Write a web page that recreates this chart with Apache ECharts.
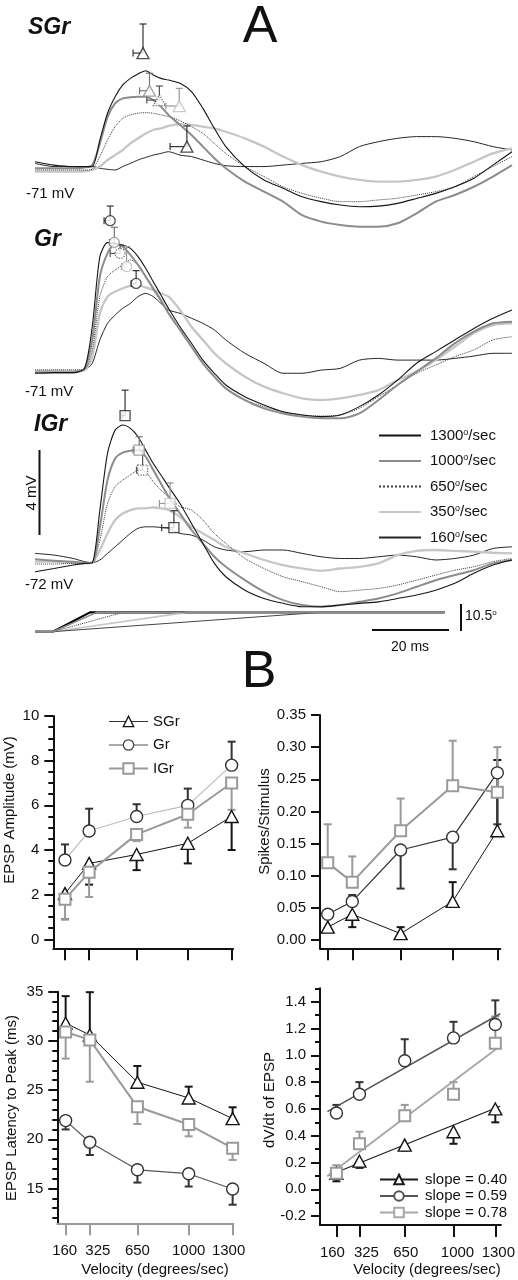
<!DOCTYPE html>
<html><head><meta charset="utf-8">
<script src="https://cdn.jsdelivr.net/npm/echarts@6/dist/echarts.min.js"></script>
<style>html,body{margin:0;padding:0;background:#fff}#c{width:518px;height:1280px}</style>
</head><body><div id="c"></div>
<script>
// ================= DATA =================
// Part A: membrane potential traces (mV relative to rest) sampled at these times (ms)
const timeMs = [0,5,10,13,15,17,19,21,23,25,27,29,31,33,35,38,41,44,47,50,55,60,65,70,75,80,85,90,95,100,105,110,115,120,125];
const speeds = ['1300','1000','650','350','160'];

const sgr1300 = [0.25,0.09,0.02,0.02,0.02,1.27,2.53,3.31,3.86,4.17,4.38,4.53,4.33,4.17,4.09,3.94,3.55,2.76,1.82,0.96,0.02,-0.61,-1.0,-1.4,-1.63,-1.79,-1.87,-1.84,-1.71,-1.48,-1.24,-0.93,-0.53,0.09,0.72];
const sgr1000 = [-0.06,-0.06,-0.06,-0.02,0.09,1.1,2.35,3.0,3.23,3.28,3.31,3.31,3.15,2.84,2.45,1.98,1.51,0.96,0.41,-0.06,-0.69,-1.16,-1.63,-2.27,-2.57,-2.73,-2.81,-2.81,-2.65,-2.18,-1.63,-1.32,-0.93,-0.45,0.09];
const sgr650 = [-0.14,-0.14,-0.14,-0.14,-0.1,0.49,1.27,1.90,2.29,2.45,2.53,2.56,2.53,2.45,2.37,2.18,1.90,1.58,1.11,0.64,0.02,-0.45,-0.93,-1.24,-1.47,-1.63,-1.63,-1.55,-1.47,-1.32,-1.16,-0.93,-0.45,0.02,0.49];
const sgr350 = [-0.22,-0.22,-0.22,-0.2,-0.14,0.02,0.33,0.56,0.80,1.11,1.35,1.58,1.74,1.82,1.93,2.02,1.98,1.90,1.82,1.66,1.35,0.96,0.49,0.09,-0.22,-0.45,-0.61,-0.69,-0.69,-0.61,-0.45,-0.14,0.25,0.64,0.88];
const sgr160 = [0.17,0.02,0.02,-0.02,0.02,-0.06,-0.11,-0.14,0.02,0.17,0.33,0.45,0.56,0.64,0.72,0.56,0.49,0.33,0.17,0.06,0.02,0.02,0.09,0.17,0.25,0.49,0.96,1.19,1.35,1.43,1.43,1.35,1.19,0.96,0.80];

const gr1300 = [-0.06,-0.03,-0.03,0.17,2.13,5.43,6.09,6.05,5.98,5.82,5.43,4.88,4.25,3.62,2.99,2.13,1.35,0.56,-0.06,-0.61,-1.16,-1.55,-1.87,-2.02,-2.10,-2.02,-1.63,-1.08,-0.38,0.41,0.96,1.51,2.05,2.53,2.92];
const gr1000 = [-0.02,-0.02,-0.02,0.17,1.51,4.49,5.58,6.05,5.90,5.51,5.04,4.49,3.94,3.39,2.76,1.98,1.19,0.41,-0.22,-0.77,-1.32,-1.71,-1.95,-2.10,-2.18,-2.18,-1.95,-1.32,-0.61,0.02,0.64,1.35,1.90,2.29,2.37];
const gr650 = [0.1,0.1,0.1,0.13,1.04,3.55,4.49,4.80,5.04,5.27,5.04,4.49,3.86,3.31,2.76,1.98,1.19,0.41,-0.22,-0.77,-1.32,-1.63,-1.87,-2.02,-2.07,-2.02,-1.71,-1.16,-0.61,-0.06,0.33,0.72,1.04,1.51,1.66];
const gr350 = [0.05,0.05,0.05,0.09,0.72,2.76,3.55,3.78,3.94,4.05,4.09,3.98,3.86,3.70,3.55,2.92,2.13,1.51,0.88,0.41,-0.22,-0.69,-1.0,-1.24,-1.32,-1.24,-1.08,-0.85,-0.38,0.02,0.56,1.19,1.82,2.21,2.29];
const gr160 = [0.05,0.05,0.05,0.09,0.41,1.51,2.29,2.68,3.0,3.23,3.55,3.70,3.55,3.23,2.92,2.76,2.53,2.29,1.98,1.51,0.88,0.41,-0.06,-0.06,0.09,0.17,0.56,0.64,0.56,0.56,0.56,0.64,0.75,0.88,0.88];

const igr1300 = [-0.42,-0.27,-0.11,-0.03,0,2.48,5.15,6.24,6.48,6.32,5.93,5.30,4.67,4.13,3.58,2.79,1.85,0.91,-0.03,-0.66,-1.29,-1.68,-1.91,-2.07,-2.07,-1.99,-1.91,-1.84,-1.68,-1.52,-1.29,-0.97,-0.50,-0.11,0.13];
const igr1000 = [0.16,0.09,0.05,0,0,1.69,3.89,4.91,5.18,5.27,5.30,4.99,4.36,3.73,3.11,2.32,1.54,0.91,0.28,-0.19,-0.82,-1.36,-1.76,-1.99,-2.07,-1.99,-1.84,-1.68,-1.44,-1.13,-0.82,-0.58,-0.35,-0.03,0.13];
const igr650 = [-0.06,-0.06,-0.03,-0.03,0,1.07,2.79,3.58,3.89,4.13,4.36,4.28,3.81,3.42,3.11,2.64,2.48,2.01,1.38,0.91,0.20,-0.27,-0.66,-0.89,-1.13,-1.36,-1.29,-1.21,-1.05,-0.82,-0.58,-0.35,-0.19,0.05,0.20];
const igr350 = [0.05,0.05,0,-0.03,0,0.60,1.38,2.01,2.32,2.48,2.56,2.56,2.60,2.56,2.48,2.16,1.69,1.38,1.07,0.75,0.44,0.13,-0.11,-0.27,-0.38,-0.27,-0.19,-0.03,0.36,0.56,0.60,0.56,0.52,0.47,0.44];
const igr160 = [0.44,0.36,0.20,0.05,0,0.13,0.44,0.75,1.07,1.38,1.62,1.69,1.69,1.66,1.62,1.38,1.30,1.07,0.75,0.60,0.52,0.60,0.60,0.44,0.28,0.20,0.20,0.28,0.36,0.28,0.13,0.20,0.36,0.67,0.75];

// Peak markers (order 1300,1000,650,350,160): time (ms), amplitude (mV), time SE (left), amp SE (up)
const sgrPeakTime = [28.3, 30.0, 32.6, 37.8, 39.8];
const sgrPeakAmp = [5.36, 3.59, 3.15, 2.87, 0.96];
const sgrPeakTimeErr = [2.6, 2.6, 3.3, 3.5, 4.4];
const sgrPeakAmpErr = [1.37, 0.82, 0.66, 0.83, 0.97];
const grPeakTime = [19.7, 20.8, 22.3, 24.0, 26.5];
const grPeakAmp = [7.12, 6.10, 5.58, 4.96, 4.17];
const grPeakTimeErr = [1.6, 1.3, 2.6, 1.3, 1.3];
const grPeakAmpErr = [0.69, 0.71, 0.4, 0.94, 0.6];
const igrPeakTime = [23.6, 27.3, 28.2, 35.4, 36.4];
const igrPeakAmp = [6.92, 5.30, 4.36, 2.79, 1.65];
const igrPeakTimeErr = [0.8, 1.6, 1.6, 2.8, 3.2];
const igrPeakAmpErr = [1.2, 0.63, 0.94, 0.97, 0.8];

// Stimulus ramps (deg): onset, time plateau reached, end
const stimOnset = 4.7;
const stimPlateauTime = [14.4, 16.2, 23.1, 39.8, 74.7];
const stimEndTime = 107.4;
const stimAmplitude = 8.1;

// Part B
const velocities = [160, 325, 650, 1000, 1300];
const groups = ['SGr', 'Gr', 'IGr'];

const ampSGr = [2.05, 3.4, 3.8, 4.3, 5.5];
const ampSGrErr = [-1.15, -0.95, -0.7, -0.9, -1.5];
const ampGr = [3.55, 4.85, 5.5, 6.0, 7.8];
const ampGrErr = [0.7, 1.0, 0.55, 0.75, 1.05];
const ampIGr = [1.8, 3.0, 4.7, 5.6, 7.0];
const ampIGrErr = [-0.9, -1.1, -0.3, -0.6, -1.2];

const spkSGr = [0.02, 0.04, 0.01, 0.06, 0.17];
const spkSGrErr = [0, -0.02, 0.01, 0.03, 0.11];
const spkGr = [0.04, 0.06, 0.14, 0.16, 0.26];
const spkGrErr = [0, 0.01, -0.06, -0.05, -0.08];
const spkIGr = [0.12, 0.09, 0.17, 0.24, 0.23];
const spkIGrErr = [0.06, 0.04, 0.05, 0.07, 0.07];

const latSGr = [31.8, 30.6, 25.8, 24.2, 22.1];
const latSGrErr = [2.75, 4.35, 1.65, 1.15, 1.15];
const latGr = [21.9, 19.7, 16.9, 16.5, 14.95];
const latGrErr = [-0.9, -1.3, -1.3, -1.3, -1.6];
const latIGr = [30.9, 30.1, 23.3, 21.5, 19.1];
const latIGrErr = [-2.7, -4.25, -1.75, -1.2, -1.2];

const dvSGr = [0.12, 0.21, 0.33, 0.43, 0.60];
const dvSGrErr = [-0.06, -0.05, -0.04, -0.09, -0.10];
const dvGr = [0.57, 0.71, 0.96, 1.13, 1.23];
const dvGrErr = [0.06, 0.09, 0.16, 0.12, 0.18];
const dvIGr = [0.12, 0.34, 0.55, 0.71, 1.09];
const dvIGrErr = [0.06, 0.09, 0.08, 0.09, 0.2];

const fitVelocity = [95, 1335];
const dvFitSGr = [0.10, 0.62];
const dvFitGr = [0.58, 1.31];
const dvFitIGr = [0.10, 1.07];
const slopeLabels = ['slope = 0.40', 'slope = 0.59', 'slope = 0.78'];

// Tick values
const ampTicks = [0, 2, 4, 6, 8, 10];
const ampMinorTicks = [0.5,1,1.5,2.5,3,3.5,4.5,5,5.5,6.5,7,7.5,8.5,9,9.5];
const spkTicks = [0, 0.05, 0.10, 0.15, 0.20, 0.25, 0.30, 0.35];
const latTicks = [15, 20, 25, 30, 35];
const latMinorTicks = [12,13,14,16,17,18,19,21,22,23,24,26,27,28,29,31,32,33,34];
const dvTicks = [-0.2, 0, 0.2, 0.4, 0.6, 0.8, 1.0, 1.2, 1.4];
const dvMinorTicks = [-0.1, 0.1, 0.3, 0.5, 0.7, 0.9, 1.1, 1.3, 1.5];

// ================= STYLE / LAYOUT =================
const FONT = 'Liberation Sans, Arial, Helvetica, sans-serif';
const traceStyles = {
  '1300': {color:'#151515', width:1.1, type:'solid'},
  '1000': {color:'#8c8c8c', width:2, type:'solid'},
  '650':  {color:'#3a3a3a', width:1, type:'dotted'},
  '350':  {color:'#c6c6c6', width:2.3, type:'solid'},
  '160':  {color:'#262626', width:1, type:'solid'}
};
const stimStyles = {
  '1300': {color:'#000', width:2.2, type:'solid'},
  '1000': {color:'#8c8c8c', width:1.6, type:'solid'},
  '650':  {color:'#3a3a3a', width:1, type:'dotted'},
  '350':  {color:'#c6c6c6', width:1.6, type:'solid'},
  '160':  {color:'#444', width:1, type:'solid'}
};
const stimOrder = [0, 2, 3, 4, 1];
const markerStyles = {
  '1300': {border:'#222', err:'#333', dash:'solid'},
  '1000': {border:'#8c8c8c', err:'#777', dash:'solid'},
  '650':  {border:'#555', err:'#555', dash:'dotted'},
  '350':  {border:'#bdbdbd', err:'#999', dash:'solid'},
  '160':  {border:'#222', err:'#333', dash:'solid'}
};
const groupStyle = {
  SGr: {symbol:'triangle', size:[13,12], line:'#151515', lineW:1, border:'#151515', err:'#151515'},
  Gr:  {symbol:'circle', size:12, line:'#444', lineW:1.2, border:'#333', err:'#333'},
  IGr: {symbol:'rect', size:11, line:'#9a9a9a', lineW:2, border:'#9a9a9a', err:'#9a9a9a'}
};

const panelsA = [
  {traces:[sgr1300,sgr1000,sgr650,sgr350,sgr160], pt:sgrPeakTime, pv:sgrPeakAmp, pte:sgrPeakTimeErr, pve:sgrPeakAmpErr, symbol:'triangle', size:[12,11], grid:{top:18.25, height:212.5}, y:[-3,7]},
  {traces:[gr1300,gr1000,gr650,gr350,gr160], pt:grPeakTime, pv:grPeakAmp, pte:grPeakTimeErr, pve:grPeakAmpErr, symbol:'circle', size:10, grid:{top:202, height:233.75}, y:[-3,8]},
  {traces:[igr1300,igr1000,igr650,igr350,igr160], pt:igrPeakTime, pv:igrPeakAmp, pte:igrPeakTimeErr, pve:igrPeakAmpErr, symbol:'rect', size:10, grid:{top:382.1, height:244.4}, y:[-3,8.5]}
];

const grids = [];
const xAxes = [];
const yAxes = [];
const series = [];

// ---------- Part A grids ----------
panelsA.forEach((p) => {
  grids.push({left:35, width:477, top:p.grid.top, height:p.grid.height});
  const gi = grids.length - 1;
  xAxes.push({gridIndex:gi, type:'value', min:0, max:125, show:false});
  yAxes.push({gridIndex:gi, type:'value', min:p.y[0], max:p.y[1], show:false});
});
grids.push({left:35, width:477, top:603.1, height:30.95});
xAxes.push({gridIndex:3, type:'value', min:0, max:125, show:false});
yAxes.push({gridIndex:3, type:'value', min:-1, max:12, show:false});

const drawOrder = [4, 3, 2, 1, 0]; // 160 first, 1300 on top
panelsA.forEach((p, pi) => {
  drawOrder.forEach((k) => {
    const s = speeds[k], st = traceStyles[s];
    series.push({
      type:'line', name: s + '°/sec', xAxisIndex:pi, yAxisIndex:pi,
      data: timeMs.map((t, i) => [t, p.traces[k][i]]),
      symbol:'none', smooth:0.25, silent:true, z:2,
      itemStyle:{color:st.color},
      lineStyle:{color:st.color, width:st.width, type:st.type}
    });
  });
  series.push({
    type:'custom', xAxisIndex:pi, yAxisIndex:pi, z:3, silent:true, clip:false,
    data: p.pt.map((t, i) => [t, p.pv[i], p.pte[i], p.pve[i]]),
    encode:{x:0, y:1},
    renderItem: (params, api) => {
      const t = api.value(0), v = api.value(1), te = api.value(2), ve = api.value(3);
      const c = api.coord([t, v]), l = api.coord([t - te, v]), u = api.coord([t, v + ve]);
      const st = {stroke: markerStyles[speeds[params.dataIndex]].err, lineWidth: 1.2};
      return {type:'group', children:[
        {type:'line', shape:{x1:c[0], y1:c[1], x2:u[0], y2:u[1]}, style:st},
        {type:'line', shape:{x1:u[0]-3.5, y1:u[1], x2:u[0]+3.5, y2:u[1]}, style:st},
        {type:'line', shape:{x1:c[0], y1:c[1], x2:l[0], y2:l[1]}, style:st},
        {type:'line', shape:{x1:l[0], y1:l[1]-3.5, x2:l[0], y2:l[1]+3.5}, style:st}
      ]};
    }
  });
  series.push({
    type:'scatter', xAxisIndex:pi, yAxisIndex:pi, z:4, silent:true,
    symbol:p.symbol, symbolSize:p.size,
    data: p.pt.map((t, i) => ({
      value:[t, p.pv[i]],
      itemStyle:{color:'#fff', borderColor:markerStyles[speeds[i]].border, borderWidth:1.3, borderType:markerStyles[speeds[i]].dash}
    }))
  });
});

// Stimulus ramps
stimOrder.forEach((k) => {
  const s = speeds[k], st = stimStyles[s];
  series.push({
    type:'line', name:'stim' + s, xAxisIndex:3, yAxisIndex:3, symbol:'none', silent:true,
    data:[[0,0],[stimOnset,0],[stimPlateauTime[k],stimAmplitude],[stimEndTime,stimAmplitude]],
    lineStyle:{color:st.color, width:st.width, type:st.type}
  });
});

// ---------- Part B ----------
const panelsB = [
  {key:'amp', vals:{SGr:ampSGr, Gr:ampGr, IGr:ampIGr}, errs:{SGr:ampSGrErr, Gr:ampGrErr, IGr:ampIGrErr},
   grid:{left:53.3, top:716, width:179.8, height:232.3}, x:[80,1310], y:[-0.4,10], ticks:ampTicks, minor:ampMinorTicks, fmt:v=>String(v), xLabels:false,
   labelShift:[0,0,0,0,0], lineColor:{Gr:'#bcbcbc'}},
  {key:'spk', vals:{SGr:spkSGr, Gr:spkGr, IGr:spkIGr}, errs:{SGr:spkSGrErr, Gr:spkGrErr, IGr:spkIGrErr},
   grid:{left:320, top:715, width:180.3, height:233.3}, x:[108,1320], y:[-0.0129,0.35], ticks:spkTicks, minor:null, fmt:v=>v.toFixed(2), xLabels:false,
   labelShift:[0,0,0,0,0], lineColor:{Gr:'#333'}},
  {key:'lat', vals:{SGr:latSGr, Gr:latGr, IGr:latIGr}, errs:{SGr:latSGrErr, Gr:latGrErr, IGr:latIGrErr},
   grid:{left:57.3, top:991.7, width:176.2, height:231.6}, x:[103,1306], y:[11.46,35], ticks:latTicks, minor:latMinorTicks, fmt:v=>String(v), xLabels:true, xAxisColor:'#9a9a9a',
   labelShift:[-1,8,0,0,-4], lineColor:{Gr:'#555'}},
  {key:'dv', vals:{SGr:dvSGr, Gr:dvGr, IGr:dvIGr}, errs:{SGr:dvSGrErr, Gr:dvGrErr, IGr:dvIGrErr},
   grid:{left:320, top:988.3, width:183.3, height:236.7}, x:[42,1340], y:[-0.266,1.5], ticks:dvTicks, minor:dvMinorTicks, fmt:v=>v.toFixed(1), xLabels:true,
   labelShift:[-4,7,1,4,3], noLines:true}
];

panelsB.forEach((p) => {
  grids.push(p.grid);
  const gi = grids.length - 1;
  const xc = p.xAxisColor || '#111';
  const rich = {};
  p.labelShift.forEach((s, i) => {
    rich['l' + i] = {fontSize:15, fontFamily:FONT, color:'#111', padding: s >= 0 ? [0,0,0,2*s] : [0,-2*s,0,0]};
  });
  xAxes.push({
    gridIndex:gi, type:'value', min:p.x[0], max:p.x[1], position:'bottom',
    axisLine:{show:true, onZero:false, lineStyle:{color:xc, width:2}},
    axisTick:{show:true, inside:false, length:12, customValues:velocities, lineStyle:{color:xc, width:2}},
    axisLabel:{show:p.xLabels, customValues:velocities, margin:20, fontSize:15, color:'#111', fontFamily:FONT,
      hideOverlap:false, showMinLabel:true, showMaxLabel:true, rich:rich,
      formatter:v => '{l' + velocities.indexOf(v) + '|' + v + '}'},
    splitLine:{show:false}
  });
  const xi = xAxes.length - 1;
  yAxes.push({
    gridIndex:gi, type:'value', min:p.y[0], max:p.y[1], position:'left',
    axisLine:{show:true, onZero:false, lineStyle:{color:'#111', width:2}},
    axisTick:{show:true, inside:false, length:9, customValues:p.ticks, lineStyle:{color:'#111', width:2}},
    axisLabel:{show:true, customValues:p.ticks, margin:14, fontSize:15, color:'#111', fontFamily:FONT, formatter:p.fmt},
    splitLine:{show:false}
  });
  const yi = yAxes.length - 1;
  if (p.minor) {
    yAxes.push({
      gridIndex:gi, type:'value', min:p.y[0], max:p.y[1], position:'left', offset:0,
      axisLine:{show:false, onZero:false},
      axisTick:{show:true, inside:false, length:5, customValues:p.minor, lineStyle:{color:'#111', width:2}},
      axisLabel:{show:false}, splitLine:{show:false}
    });
  }
  groups.forEach((g) => {
    const gs = groupStyle[g];
    series.push({
      type:'custom', xAxisIndex:xi, yAxisIndex:yi, z:1, silent:true, clip:false,
      data: velocities.map((v, i) => [v, p.vals[g][i], p.errs[g][i]]),
      encode:{x:0, y:1},
      renderItem: (params, api) => {
        const e = api.value(2);
        if (!e) return null;
        const a = api.coord([api.value(0), api.value(1)]);
        const b = api.coord([api.value(0), api.value(1) + e]);
        const st = {stroke:gs.err, lineWidth:2};
        return {type:'group', children:[
          {type:'line', shape:{x1:a[0], y1:a[1], x2:b[0], y2:b[1]}, style:st},
          {type:'line', shape:{x1:b[0]-4, y1:b[1], x2:b[0]+4, y2:b[1]}, style:st}
        ]};
      }
    });
    series.push({
      type:'line', name:g, xAxisIndex:xi, yAxisIndex:yi, z:3, silent:true,
      data: velocities.map((v, i) => [v, p.vals[g][i]]),
      symbol:gs.symbol, symbolSize:gs.size, showSymbol:true,
      lineStyle:{color:(p.lineColor && p.lineColor[g]) || gs.line, width: p.noLines ? 0 : gs.lineW, opacity: p.noLines ? 0 : 1},
      itemStyle:{color:'#fff', borderColor:gs.border, borderWidth: g === 'IGr' ? 2 : 1.4}
    });
  });
  if (p.key === 'dv') {
    const fits = [dvFitSGr, dvFitGr, dvFitIGr];
    const fitColors = ['#1a1a1a', '#555', '#a8a8a8'];
    const fitWidths = [1.2, 1.5, 2];
    groups.forEach((g, gi2) => {
      const gs = groupStyle[g];
      series.push({
        type:'line', name:slopeLabels[gi2], xAxisIndex:xi, yAxisIndex:yi, z:2, silent:true,
        data: fitVelocity.map((v, i) => [v, fits[gi2][i]]),
        symbol:gs.symbol, symbolSize:gs.size, showSymbol:false,
        lineStyle:{color:fitColors[gi2], width:fitWidths[gi2]},
        itemStyle:{color:'#fff', borderColor:fitColors[gi2], borderWidth:1.3}
      });
    });
  }
});

// ---------- Annotations ----------
const txt = (x, y, text, extra) => Object.assign({type:'text', x, y, silent:true,
  style:Object.assign({text, fill:'#111', fontFamily:FONT, fontSize:15, align:'left', verticalAlign:'middle'}, (extra && extra.style) || {})},
  extra && extra.rotation !== undefined ? {rotation:extra.rotation} : {});
const ln = (x1, y1, x2, y2, w) => ({type:'line', silent:true, shape:{x1, y1, x2, y2}, style:{stroke:'#111', lineWidth:w || 2}});

const graphic = [
  txt(28, 28, 'SGr', {style:{fontSize:23, fontWeight:'bold', fontStyle:'italic'}}),
  txt(34, 240, 'Gr', {style:{fontSize:23, fontWeight:'bold', fontStyle:'italic'}}),
  txt(34, 425, 'IGr', {style:{fontSize:23, fontWeight:'bold', fontStyle:'italic'}}),
  txt(260, 28, 'A', {style:{fontSize:52, align:'center'}}),
  txt(259, 673, 'B', {style:{fontSize:52, align:'center'}}),
  txt(26, 194, '-71 mV', {style:{fontSize:15}}),
  txt(25, 391.5, '-71 mV', {style:{fontSize:15}}),
  txt(25, 585, '-72 mV', {style:{fontSize:15}}),
  txt(32, 493, '4 mV', {rotation:Math.PI/2, style:{fontSize:15, align:'center'}}),
  ln(39.5, 450, 39.5, 535, 2),
  ln(372, 630, 449, 630, 2),
  ln(461, 604, 461, 631, 2),
  txt(465, 616, '{n|10.5}{s|o}', {style:{fontSize:14, rich:{n:{fontSize:14, fontFamily:FONT, fill:'#111'}, s:{fontSize:8, fontFamily:FONT, fill:'#111', verticalAlign:'top'}}}}),
  txt(410, 647, '20 ms', {style:{fontSize:14, align:'center'}}),
  txt(9.5, 810, 'EPSP Amplitude (mV)', {rotation:Math.PI/2, style:{align:'center'}}),
  txt(265, 821.5, 'Spikes/Stimulus', {rotation:Math.PI/2, style:{align:'center'}}),
  txt(11.7, 1108, 'EPSP Latency to Peak (ms)', {rotation:Math.PI/2, style:{align:'center'}}),
  txt(270, 1100, 'dV/dt of EPSP', {rotation:Math.PI/2, style:{align:'center'}}),
  txt(155, 1270, 'Velocity (degrees/sec)', {style:{align:'center'}}),
  txt(427, 1270, 'Velocity (degrees/sec)', {style:{align:'center'}})
];

const legends = [
  {
    data: speeds.map(s => s + '°/sec'), orient:'vertical', left:373, top:423, itemWidth:42, itemHeight:12, itemGap:10.5,
    selectedMode:false, itemStyle:{opacity:0, borderWidth:0},
    formatter: n => { const m = n.match(/^(\d+)°\/sec$/); return '{n|' + m[1] + '}{s|o}{n|/sec}'; },
    textStyle:{fontSize:15, color:'#111', fontFamily:FONT, padding:[0,0,0,4],
      rich:{n:{fontSize:15, color:'#111', fontFamily:FONT}, s:{fontSize:9, color:'#111', fontFamily:FONT, verticalAlign:'top'}}}
  },
  {
    data: [
      {name:'SGr', lineStyle:{color:'#333', width:1.2}, itemStyle:{color:'#fff', borderColor:'#111', borderWidth:1.3}},
      {name:'Gr', lineStyle:{color:'#555', width:1.2}, itemStyle:{color:'#fff', borderColor:'#444', borderWidth:1.3}},
      {name:'IGr', lineStyle:{color:'#9a9a9a', width:2}, itemStyle:{color:'#fff', borderColor:'#9a9a9a', borderWidth:2}}
    ],
    orient:'vertical', left:103, top:709, itemWidth:39, itemHeight:13, itemGap:8.5, selectedMode:false,
    textStyle:{fontSize:15, color:'#111', fontFamily:FONT, padding:[0,0,0,0]}
  },
  {
    data: slopeLabels, orient:'vertical', left:374, top:1167, itemWidth:38, itemHeight:12, itemGap:1.5, selectedMode:false,
    textStyle:{fontSize:15, color:'#111', fontFamily:FONT, padding:[0,0,0,2]}
  }
];

const chart = echarts.init(document.getElementById('c'), null, {renderer:'canvas', width:518, height:1280});
chart.setOption({
  animation:false,
  backgroundColor:'#fff',
  textStyle:{fontFamily:FONT},
  grid:grids, xAxis:xAxes, yAxis:yAxes,
  legend:legends,
  series:series,
  graphic:graphic
});
</script>
</body></html>
